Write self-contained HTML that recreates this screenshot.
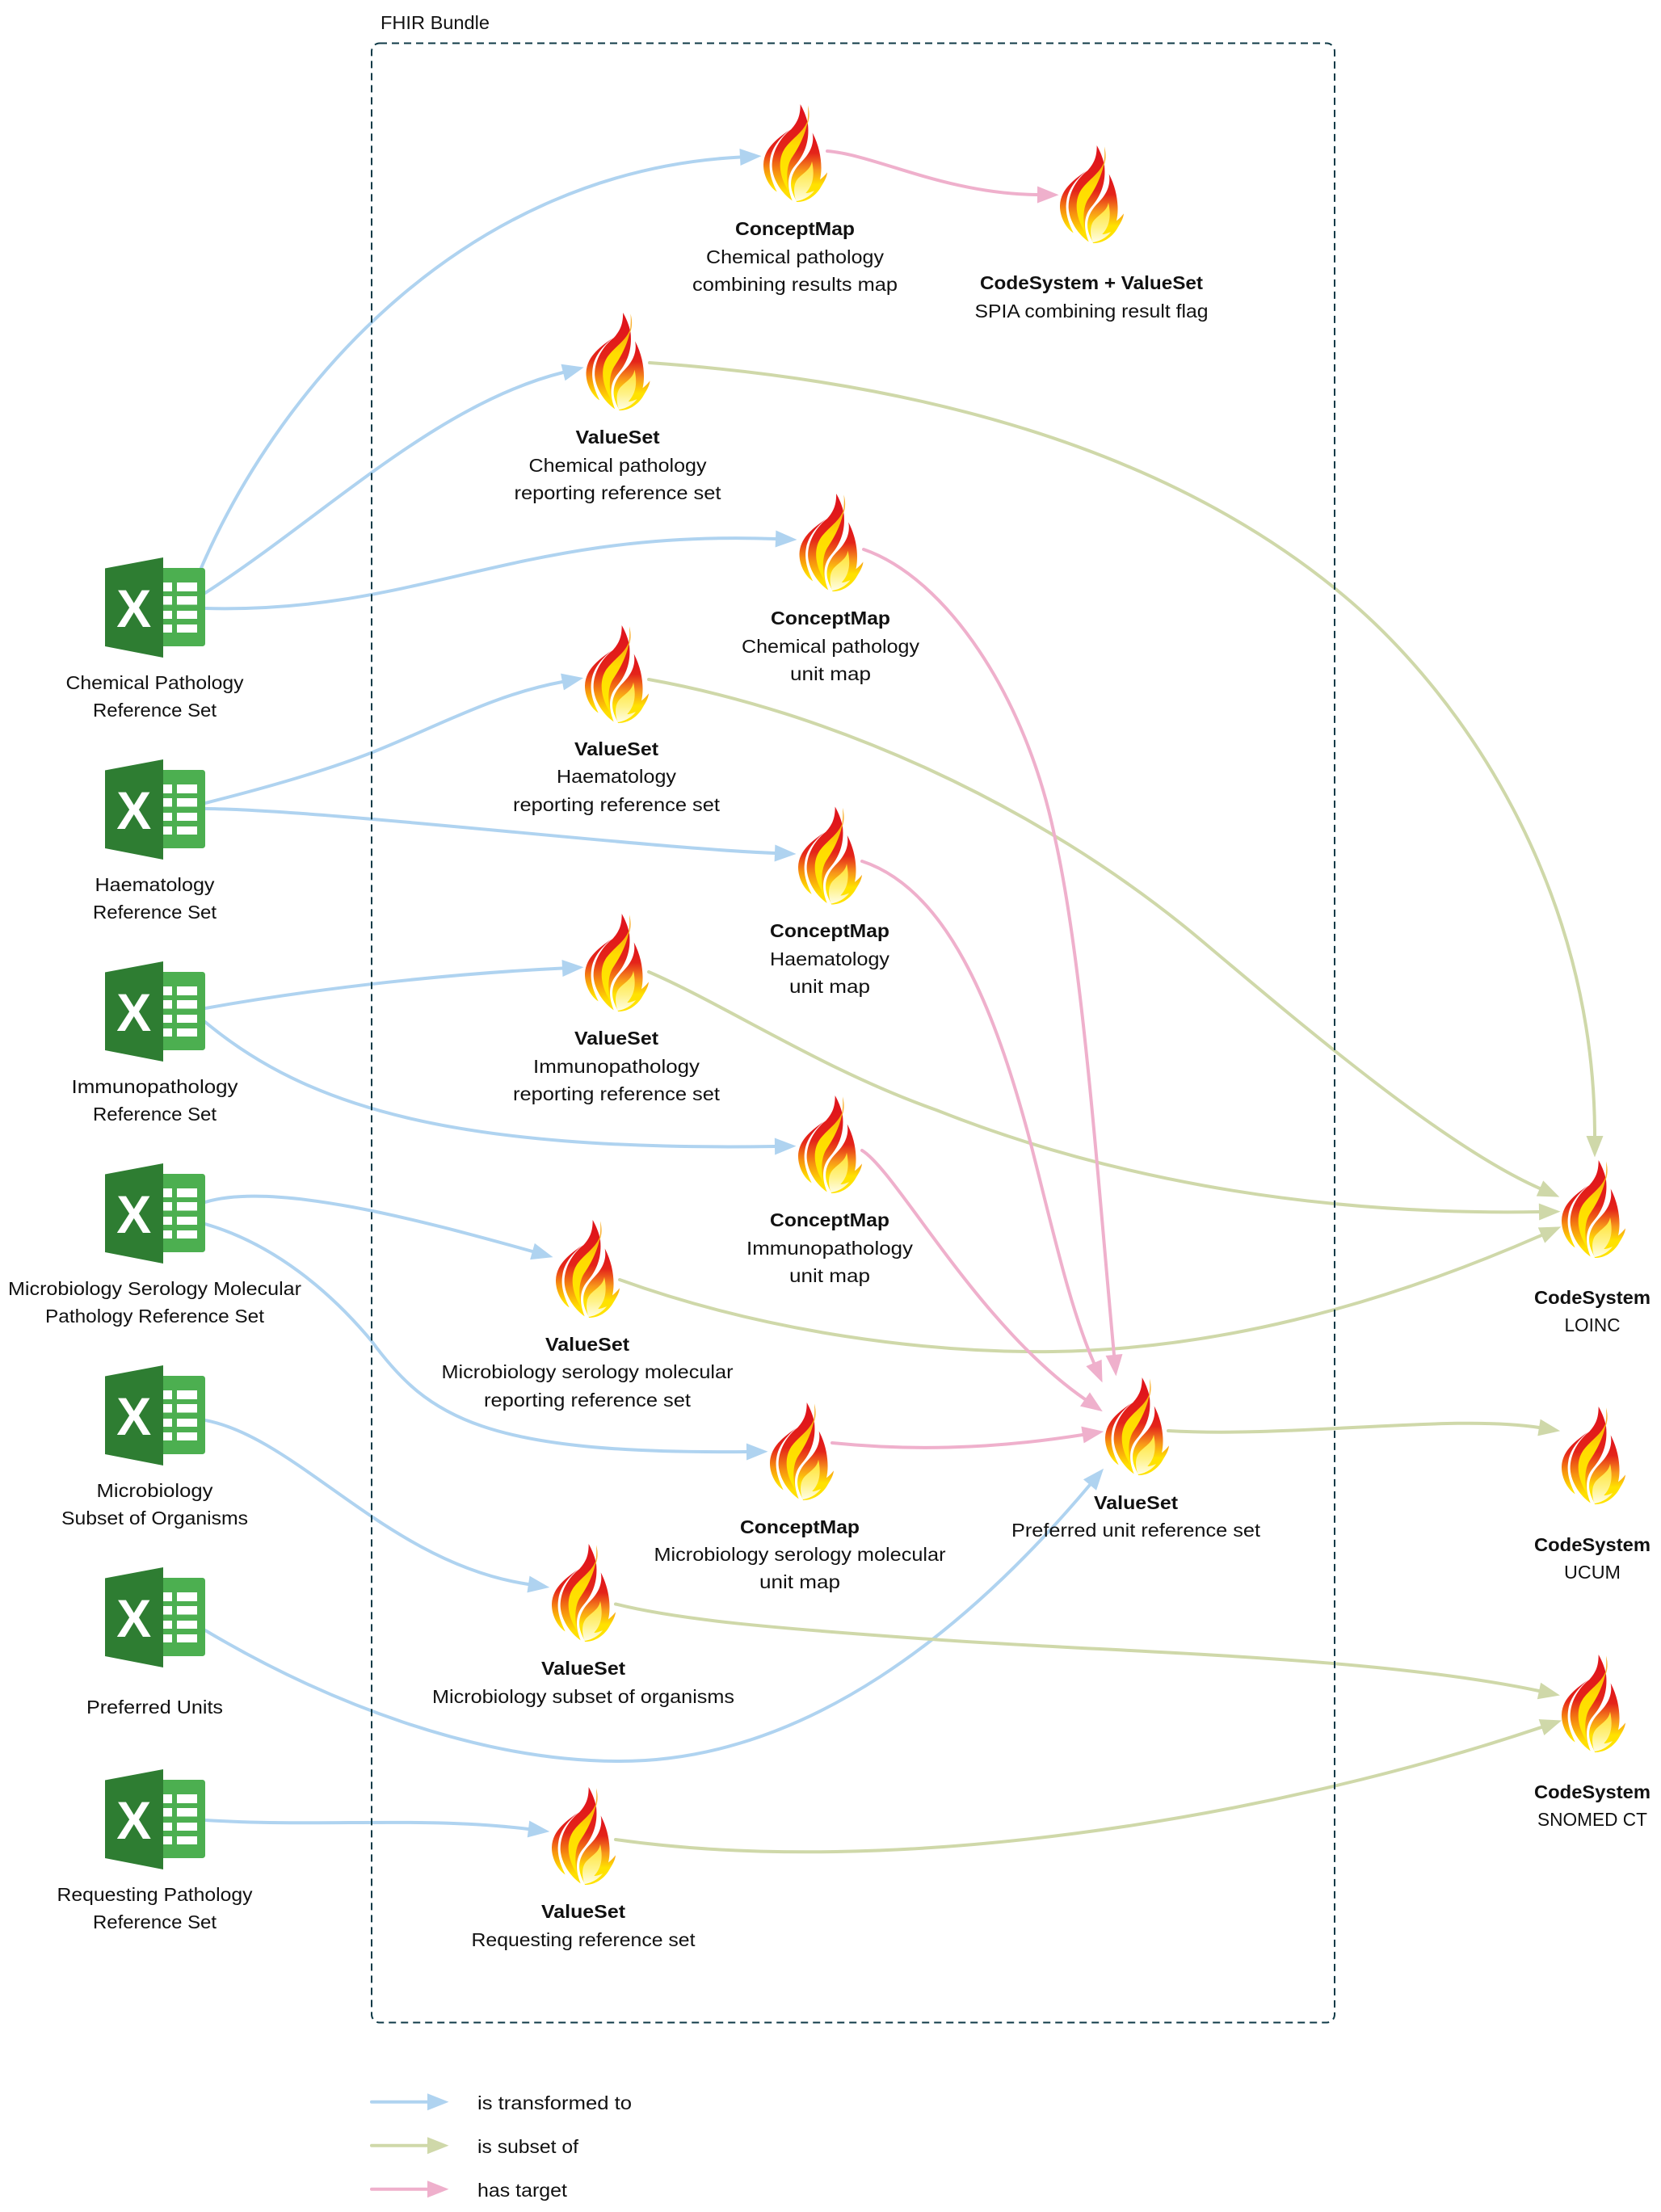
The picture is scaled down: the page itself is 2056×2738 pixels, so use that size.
<!DOCTYPE html>
<html>
<head>
<meta charset="utf-8">
<title>FHIR Bundle diagram</title>
<style>
html,body{margin:0;padding:0;background:#fff;width:2056px;height:2738px;overflow:hidden}
svg{display:block}
text{font-family:"Liberation Sans",sans-serif;font-size:23px;fill:#111;text-anchor:middle}
text.b{font-weight:bold}
text.l{text-anchor:start}
.c{fill:none;stroke-width:4;stroke-linecap:round}
.bl{stroke:#afd3f0}
.gr{stroke:#cfd8a9}
.pk{stroke:#efb0cc}
</style>
</head>
<body>
<svg xmlns="http://www.w3.org/2000/svg" width="2056" height="2738" viewBox="0 0 2056 2738">
<defs>
<marker id="mb" markerUnits="userSpaceOnUse" markerWidth="28" markerHeight="22" refX="0" refY="11" orient="auto" overflow="visible"><path d="M0,0.5 L26.5,11 L0,21.5Z" fill="#afd3f0"/></marker>
<marker id="mg" markerUnits="userSpaceOnUse" markerWidth="28" markerHeight="22" refX="0" refY="11" orient="auto" overflow="visible"><path d="M0,0.5 L26.5,11 L0,21.5Z" fill="#cfd8a9"/></marker>
<marker id="mp" markerUnits="userSpaceOnUse" markerWidth="28" markerHeight="22" refX="0" refY="11" orient="auto" overflow="visible"><path d="M0,0.5 L26.5,11 L0,21.5Z" fill="#efb0cc"/></marker>
<linearGradient id="g1" gradientUnits="userSpaceOnUse" x1="0" y1="120" x2="0" y2="340">
<stop offset="0" stop-color="#e0151b"/><stop offset=".3" stop-color="#e6291a"/><stop offset=".6" stop-color="#f7900f"/><stop offset=".9" stop-color="#ffe000"/>
</linearGradient>
<linearGradient id="g2" gradientUnits="userSpaceOnUse" x1="0" y1="60" x2="0" y2="360">
<stop offset="0" stop-color="#e0151b"/><stop offset=".4" stop-color="#e4241a"/><stop offset=".68" stop-color="#f7900f"/><stop offset=".92" stop-color="#ffdf00"/>
</linearGradient>
<linearGradient id="g3" gradientUnits="userSpaceOnUse" x1="0" y1="140" x2="0" y2="320">
<stop offset="0" stop-color="#e0151b"/><stop offset=".3" stop-color="#e4241a"/><stop offset=".65" stop-color="#f7941a"/><stop offset=".95" stop-color="#ffe200"/>
</linearGradient>
<linearGradient id="g4" gradientUnits="userSpaceOnUse" x1="0" y1="70" x2="0" y2="300">
<stop offset="0" stop-color="#f7a50f"/><stop offset=".4" stop-color="#ffdb00"/><stop offset="1" stop-color="#ffe800"/>
</linearGradient>
<linearGradient id="g5" gradientUnits="userSpaceOnUse" x1="0" y1="228" x2="0" y2="372">
<stop offset="0" stop-color="#ffe22e"/><stop offset=".6" stop-color="#fff288"/><stop offset="1" stop-color="#fffde6"/>
</linearGradient>
<symbol id="fl" viewBox="0 0 270 390" width="90" height="130" overflow="visible">
<path d="M112,107 C75,135 18,170 15,235 C14,280 40,322 65,337 C47,300 32,260 40,215 C47,170 80,135 112,107Z" fill="url(#g1)"/>
<path d="M152,12 C152,50 145,75 118,105 C78,135 45,190 47,245 C50,295 85,345 122,370 C102,320 102,275 132,240 C167,200 187,150 180,85 C174,55 162,30 152,12Z" fill="url(#g2)"/>
<path d="M180,70 C165,115 125,135 95,175 C68,215 70,275 110,338 C97,280 102,235 124,205 C144,175 172,125 180,70Z" fill="url(#g4)"/>
<path d="M180,16 C188,45 186,70 176,92 C180,65 182,45 180,16Z" fill="#f9b233"/>
<path d="M197,118 C205,160 187,195 157,225 C127,255 110,290 120,330 C125,350 135,365 138,375 C175,375 205,355 225,325 C240,300 250,285 252,265 C240,280 230,288 225,292 C235,250 230,180 197,118Z" fill="url(#g3)"/>
<path d="M195,224 C190,258 158,268 138,295 C123,320 130,355 137,372 C167,368 192,350 204,333 C192,338 182,342 172,342 C197,315 207,280 195,224Z" fill="url(#g5)"/>
</symbol>
<symbol id="xl" viewBox="0 0 124 124" width="124" height="124" overflow="visible">
<rect x="66" y="13" width="58" height="97" rx="3.5" fill="#4caf50"/>
<g fill="#fff">
<rect x="72" y="31" width="11" height="11"/><rect x="89" y="31" width="25" height="11"/>
<rect x="72" y="48" width="11" height="10.5"/><rect x="89" y="48" width="25" height="10.5"/>
<rect x="72" y="66" width="11" height="10"/><rect x="89" y="66" width="25" height="10"/>
<rect x="72" y="83" width="11" height="10"/><rect x="89" y="83" width="25" height="10"/>
</g>
<path d="M0,13.5 L72,0 L72,124 L0,110Z" fill="#2e7d32"/>
<text x="35.8" y="86" textLength="43" lengthAdjust="spacingAndGlyphs" style="font-size:66px;font-weight:bold;fill:#fff">X</text>
</symbol>
</defs>
<rect width="2056" height="2738" fill="#fff"/>

<g class="edges">
<path class="c bl" marker-end="url(#mb)" d="M249,703 C350,470 580,212 916,194.5"/>
<path class="c bl" marker-end="url(#mb)" d="M254,734 C400,640 540,500 697,461"/>
<path class="c bl" marker-end="url(#mb)" d="M254,753 C520,760 640,655 960,667"/>
<path class="c bl" marker-end="url(#mb)" d="M254,994 C330,975 400,955 460,931.6 C540,900 610,860 696,844"/>
<path class="c bl" marker-end="url(#mb)" d="M254,1001 C400,1002 800,1050 959,1056"/>
<path class="c bl" marker-end="url(#mb)" d="M254,1248 C400,1222 560,1205 696,1198.5"/>
<path class="c bl" marker-end="url(#mb)" d="M254,1265 C380,1370 560,1425 959,1419"/>
<path class="c bl" marker-end="url(#mb)" d="M254,1488 C340,1462 520,1510 659,1549"/>
<path class="c bl" marker-end="url(#mb)" d="M254,1515 C340,1540 410,1600 460,1660 C530,1755 600,1800 924,1797"/>
<path class="c bl" marker-end="url(#mb)" d="M254,1758 C370,1780 480,1935 654,1961"/>
<path class="c bl" marker-end="url(#mb)" d="M254,2018 C400,2105 590,2180 767,2180 C1000,2180 1200,2015 1349,1838"/>
<path class="c bl" marker-end="url(#mb)" d="M254,2253 C400,2262 520,2248 654,2264"/>

<path class="c gr" marker-end="url(#mg)" d="M804,449 C1100,470 1420,540 1652,728 C1810,855 1974,1100 1974,1406"/>
<path class="c gr" marker-end="url(#mg)" d="M803,841 C1020,880 1280,990 1487,1164 C1620,1276 1790,1420 1906,1471"/>
<path class="c gr" marker-end="url(#mg)" d="M803,1203 C900,1245 1020,1325 1159,1374 C1350,1450 1600,1505 1905,1500"/>
<path class="c gr" marker-end="url(#mg)" d="M767,1584 C950,1650 1150,1675 1303,1673 C1500,1670 1700,1620 1908,1529"/>
<path class="c gr" marker-end="url(#mg)" d="M1446,1771 C1600,1780 1800,1750 1905,1767"/>
<path class="c gr" marker-end="url(#mg)" d="M762,1985.5 C840,2005 950,2015 1166,2030 C1400,2046 1700,2050 1905,2093"/>
<path class="c gr" marker-end="url(#mg)" d="M762,2277 C1100,2325 1560,2255 1908,2138"/>

<path class="c pk" marker-end="url(#mp)" d="M1024,187 C1085,192 1170,240 1284,241"/>
<path class="c pk" marker-end="url(#mp)" d="M1069,680 C1170,715 1270,860 1306,1038 C1340,1190 1358,1450 1379,1677"/>
<path class="c pk" marker-end="url(#mp)" d="M1067,1066 C1170,1100 1230,1240 1277,1420 C1305,1530 1325,1620 1354,1687"/>
<path class="c pk" marker-end="url(#mp)" d="M1067,1424 C1110,1450 1210,1640 1343,1732"/>
<path class="c pk" marker-end="url(#mp)" d="M1030,1786 C1120,1795 1220,1795 1340,1776"/>
</g>

<rect x="460" y="53.5" width="1192" height="2450" rx="10" ry="10" fill="none" stroke="#0f3a47" stroke-width="2" stroke-dasharray="9 6"/>
<text class="l" x="471" y="36" textLength="135" lengthAdjust="spacingAndGlyphs">FHIR Bundle</text>

<use href="#xl" x="130" y="690"/><use href="#xl" x="130" y="940"/><use href="#xl" x="130" y="1190"/><use href="#xl" x="130" y="1440"/><use href="#xl" x="130" y="1690"/><use href="#xl" x="130" y="1940"/><use href="#xl" x="130" y="2190"/>

<use href="#fl" x="940" y="125"/>
<use href="#fl" x="1307" y="176"/>
<use href="#fl" x="720.5" y="383"/>
<use href="#fl" x="984.5" y="607"/>
<use href="#fl" x="719" y="770"/>
<use href="#fl" x="983" y="994.5"/>
<use href="#fl" x="719" y="1127"/>
<use href="#fl" x="983" y="1352"/>
<use href="#fl" x="683" y="1506"/>
<use href="#fl" x="948" y="1732"/>
<use href="#fl" x="1363" y="1701"/>
<use href="#fl" x="678" y="1907"/>
<use href="#fl" x="678" y="2208"/>
<use href="#fl" x="1928" y="1432"/>
<use href="#fl" x="1928" y="1737"/>
<use href="#fl" x="1928" y="2044"/>

<text x="191.5" y="853" textLength="220" lengthAdjust="spacingAndGlyphs">Chemical Pathology</text>
<text x="191.5" y="887" textLength="153" lengthAdjust="spacingAndGlyphs">Reference Set</text>
<text x="191.5" y="1103" textLength="148" lengthAdjust="spacingAndGlyphs">Haematology</text>
<text x="191.5" y="1137" textLength="153" lengthAdjust="spacingAndGlyphs">Reference Set</text>
<text x="191.5" y="1353" textLength="206" lengthAdjust="spacingAndGlyphs">Immunopathology</text>
<text x="191.5" y="1387" textLength="153" lengthAdjust="spacingAndGlyphs">Reference Set</text>
<text x="191.5" y="1603" textLength="363" lengthAdjust="spacingAndGlyphs">Microbiology Serology Molecular</text>
<text x="191.5" y="1637" textLength="271" lengthAdjust="spacingAndGlyphs">Pathology Reference Set</text>
<text x="191.5" y="1853" textLength="144" lengthAdjust="spacingAndGlyphs">Microbiology</text>
<text x="191.5" y="1887" textLength="231" lengthAdjust="spacingAndGlyphs">Subset of Organisms</text>
<text x="191.5" y="2121" textLength="169" lengthAdjust="spacingAndGlyphs">Preferred Units</text>
<text x="191.5" y="2353" textLength="242" lengthAdjust="spacingAndGlyphs">Requesting Pathology</text>
<text x="191.5" y="2387" textLength="153" lengthAdjust="spacingAndGlyphs">Reference Set</text>

<text class="b" x="984" y="291" textLength="148" lengthAdjust="spacingAndGlyphs">ConceptMap</text>
<text x="984" y="326" textLength="220" lengthAdjust="spacingAndGlyphs">Chemical pathology</text>
<text x="984" y="360" textLength="254" lengthAdjust="spacingAndGlyphs">combining results map</text>

<text class="b" x="1351" y="358" textLength="276" lengthAdjust="spacingAndGlyphs">CodeSystem + ValueSet</text>
<text x="1351" y="393" textLength="289" lengthAdjust="spacingAndGlyphs">SPIA combining result flag</text>

<text class="b" x="764.5" y="549" textLength="104" lengthAdjust="spacingAndGlyphs">ValueSet</text>
<text x="764.5" y="584" textLength="220" lengthAdjust="spacingAndGlyphs">Chemical pathology</text>
<text x="764.5" y="618" textLength="256" lengthAdjust="spacingAndGlyphs">reporting reference set</text>

<text class="b" x="1028" y="773" textLength="148" lengthAdjust="spacingAndGlyphs">ConceptMap</text>
<text x="1028" y="808" textLength="220" lengthAdjust="spacingAndGlyphs">Chemical pathology</text>
<text x="1028" y="842" textLength="100" lengthAdjust="spacingAndGlyphs">unit map</text>

<text class="b" x="763" y="935" textLength="104" lengthAdjust="spacingAndGlyphs">ValueSet</text>
<text x="763" y="969" textLength="148" lengthAdjust="spacingAndGlyphs">Haematology</text>
<text x="763" y="1004" textLength="256" lengthAdjust="spacingAndGlyphs">reporting reference set</text>

<text class="b" x="1027" y="1160" textLength="148" lengthAdjust="spacingAndGlyphs">ConceptMap</text>
<text x="1027" y="1195" textLength="148" lengthAdjust="spacingAndGlyphs">Haematology</text>
<text x="1027" y="1229" textLength="100" lengthAdjust="spacingAndGlyphs">unit map</text>

<text class="b" x="763" y="1293" textLength="104" lengthAdjust="spacingAndGlyphs">ValueSet</text>
<text x="763" y="1328" textLength="206" lengthAdjust="spacingAndGlyphs">Immunopathology</text>
<text x="763" y="1362" textLength="256" lengthAdjust="spacingAndGlyphs">reporting reference set</text>

<text class="b" x="1027" y="1518" textLength="148" lengthAdjust="spacingAndGlyphs">ConceptMap</text>
<text x="1027" y="1553" textLength="206" lengthAdjust="spacingAndGlyphs">Immunopathology</text>
<text x="1027" y="1587" textLength="100" lengthAdjust="spacingAndGlyphs">unit map</text>

<text class="b" x="727" y="1672" textLength="104" lengthAdjust="spacingAndGlyphs">ValueSet</text>
<text x="727" y="1706" textLength="361" lengthAdjust="spacingAndGlyphs">Microbiology serology molecular</text>
<text x="727" y="1741" textLength="256" lengthAdjust="spacingAndGlyphs">reporting reference set</text>

<text class="b" x="990" y="1898" textLength="148" lengthAdjust="spacingAndGlyphs">ConceptMap</text>
<text x="990" y="1932" textLength="361" lengthAdjust="spacingAndGlyphs">Microbiology serology molecular</text>
<text x="990" y="1966" textLength="100" lengthAdjust="spacingAndGlyphs">unit map</text>

<text class="b" x="1406" y="1868" textLength="104" lengthAdjust="spacingAndGlyphs">ValueSet</text>
<text x="1406" y="1902" textLength="308" lengthAdjust="spacingAndGlyphs">Preferred unit reference set</text>

<text class="b" x="722" y="2073" textLength="104" lengthAdjust="spacingAndGlyphs">ValueSet</text>
<text x="722" y="2108" textLength="374" lengthAdjust="spacingAndGlyphs">Microbiology subset of organisms</text>

<text class="b" x="722" y="2374" textLength="104" lengthAdjust="spacingAndGlyphs">ValueSet</text>
<text x="722" y="2409" textLength="277" lengthAdjust="spacingAndGlyphs">Requesting reference set</text>

<text class="b" x="1971" y="1614" textLength="144" lengthAdjust="spacingAndGlyphs">CodeSystem</text>
<text x="1971" y="1648" textLength="69" lengthAdjust="spacingAndGlyphs">LOINC</text>
<text class="b" x="1971" y="1920" textLength="144" lengthAdjust="spacingAndGlyphs">CodeSystem</text>
<text x="1971" y="1954" textLength="70" lengthAdjust="spacingAndGlyphs">UCUM</text>
<text class="b" x="1971" y="2226" textLength="144" lengthAdjust="spacingAndGlyphs">CodeSystem</text>
<text x="1971" y="2260" textLength="136" lengthAdjust="spacingAndGlyphs">SNOMED CT</text>

<path class="c bl" marker-end="url(#mb)" d="M460,2601.7 L529,2601.7"/>
<path class="c gr" marker-end="url(#mg)" d="M460,2655.7 L529,2655.7"/>
<path class="c pk" marker-end="url(#mp)" d="M460,2709.7 L529,2709.7"/>
<text class="l" x="591" y="2611" textLength="191" lengthAdjust="spacingAndGlyphs">is transformed to</text>
<text class="l" x="591" y="2665" textLength="125" lengthAdjust="spacingAndGlyphs">is subset of</text>
<text class="l" x="591" y="2719" textLength="111" lengthAdjust="spacingAndGlyphs">has target</text>
</svg>
</body>
</html>
